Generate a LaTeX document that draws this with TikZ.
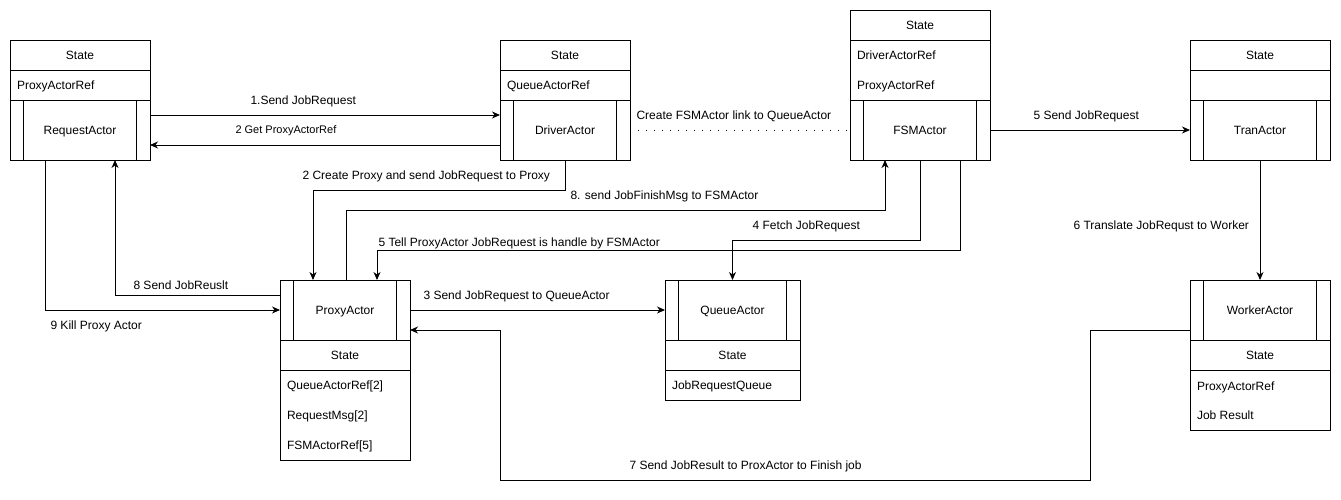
\documentclass[tikz,border=0pt]{standalone}
\usepackage{fontspec}
\setmainfont{Liberation Sans}
\usetikzlibrary{arrows.meta}
\begin{document}
\begin{tikzpicture}[x=1pt,y=-1pt,line width=1pt,
  every node/.style={font=\fontsize{12pt}{14pt}\selectfont,text height=8.6pt,text depth=0.2pt},
  cell/.style 2 args={draw,minimum width=#1,minimum height=#2,anchor=north west,inner sep=0pt,outer sep=0pt},
  proc/.style={draw,minimum width=#1,minimum height=60pt,anchor=north west,inner sep=0pt,outer sep=0pt},
  lt/.style={anchor=west,inner sep=0pt},
  lbl/.style={anchor=west,inner sep=0pt},
  arr/.style={-{Stealth[length=8pt,width=7pt,inset=2.5pt]}},
  dots/.style={dash pattern=on 1.2pt off 6.8pt}]
\useasboundingbox (0,0) rectangle (1341,499);

% RequestActor
\node[cell={140pt}{30pt}] (rqS) at (10,40) {State};
\node[cell={140pt}{30pt}] (rqF) at (10,70) {};
\node[lt] (rqFt) at (16.5,85) {ProxyActorRef};
\node[proc=140pt] (rq) at (10,100) {RequestActor};

% DriverActor
\node[cell={130pt}{30pt}] (drS) at (500,40) {State};
\node[cell={130pt}{30pt}] (drF) at (500,70) {};
\node[lt] (drFt) at (506.5,85) {QueueActorRef};
\node[proc=130pt] (dr) at (500,100) {DriverActor};

% FSMActor
\node[cell={140pt}{30pt}] (fsS) at (850,10) {State};
\node[cell={140pt}{60pt}] (fsF) at (850,40) {};
\node[lt] (fsF1) at (856.5,55) {DriverActorRef};
\node[lt] (fsF2) at (856.5,85) {ProxyActorRef};
\node[proc=140pt] (fs) at (850,100) {FSMActor};

% TranActor
\node[cell={140pt}{30pt}] (trS) at (1190,40) {State};
\node[cell={140pt}{30pt}] (trF) at (1190,70) {};
\node[proc=140pt] (tr) at (1190,100) {TranActor};

% ProxyActor
\node[proc=130pt] (px) at (280,280) {ProxyActor};
\node[cell={130pt}{30pt}] (pxS) at (280,340) {State};
\node[cell={130pt}{90pt}] (pxF) at (280,370) {};
\node[lt] (pxF1) at (286.5,385) {QueueActorRef[2]};
\node[lt] (pxF2) at (286.5,415) {RequestMsg[2]};
\node[lt] (pxF3) at (286.5,445) {FSMActorRef[5]};

% QueueActor
\node[proc=135pt] (qu) at (665,280) {QueueActor};
\node[cell={135pt}{30pt}] (quS) at (665,340) {State};
\node[cell={135pt}{30pt}] (quF) at (665,370) {};
\node[lt] (quFt) at (671.5,385) {JobRequestQueue};

% WorkerActor
\node[proc=140pt] (wk) at (1190,280) {WorkerActor};
\node[cell={140pt}{30pt}] (wkS) at (1190,340) {State};
\node[cell={140pt}{60pt}] (wkF) at (1190,370) {};
\node[lt] (wkF1) at (1196.5,386) {ProxyActorRef};
\node[lt] (wkF2) at (1196.5,415) {Job Result};

% inner bars of process boxes
\foreach \n in {rq,dr,fs,tr,px,qu,wk}{
  \draw ([xshift=13.5pt]\n.north west) -- ([xshift=13.5pt]\n.south west);
  \draw ([xshift=-13.5pt]\n.north east) -- ([xshift=-13.5pt]\n.south east);
}

% connectors
\draw[arr] ([yshift=15pt]rq.east) -- ([yshift=15pt]dr.west);
\draw[arr] ([yshift=-15pt]dr.west) -- ([yshift=-15pt]rq.east);
\draw[dots] (dr.east) -- (fs.west);
\draw[arr] (fs.east) -- (tr.west);
\draw[arr] (dr.south) -- ++(0,30) -| ([xshift=-32pt]px.north);
\draw[arr] ([xshift=1pt]px.north) -- ++(0,-70) -| ([xshift=-35pt]fs.south);
\draw[arr] (fs.south) -- ++(0,80) -| (qu.north);
\draw[arr] ([xshift=40pt]fs.south) -- ++(0,90) -| ([xshift=32pt]px.north);
\draw[arr] (tr.south) -- (wk.north);
\draw[arr] ([yshift=15pt]px.west) -| ([xshift=35pt]rq.south);
\draw[arr] ([xshift=-35pt]rq.south) |- (px.west);
\draw[arr] (px.east) -- (qu.west);
\draw[arr] ([yshift=-20pt]wk.west) -- ++(-100,0) -- ++(0,150) -- ++(-590,0) -- ++(0,-150) -- ([yshift=-20pt]px.east);

% labels
\node[lbl] (l1) at (250,100) {1.Send JobRequest};
\node[lbl,font=\fontsize{11pt}{13pt}\selectfont,text height=7.9pt] (l2) at (235,130) {2 Get ProxyActorRef};
\node[lbl] (l3) at (636,115) {Create FSMActor link to QueueActor};
\node[lbl] (l4) at (1033,115) {5 Send JobRequest};
\node[lbl] (l5) at (302,175) {2 Create Proxy and send JobRequest to Proxy};
\node[lbl] (l6) at (570,195) {8. send JobFinishMsg to FSMActor};
\node[lbl] (l7) at (752,225) {4 Fetch JobRequest};
\node[lbl] (l8) at (378,242) {5 Tell ProxyActor JobRequest is handle by FSMActor};
\node[lbl] (l9) at (1073,225) {6 Translate JobRequst to Worker};
\node[lbl] (l10) at (423,295) {3 Send JobRequest to QueueActor};
\node[lbl] (l11) at (133,285) {8 Send JobReuslt};
\node[lbl] (l12) at (50,325) {9 Kill Proxy Actor};
\node[lbl] (l13) at (629,465) {7 Send JobResult to ProxActor to Finish job};
\end{tikzpicture}
\end{document}
